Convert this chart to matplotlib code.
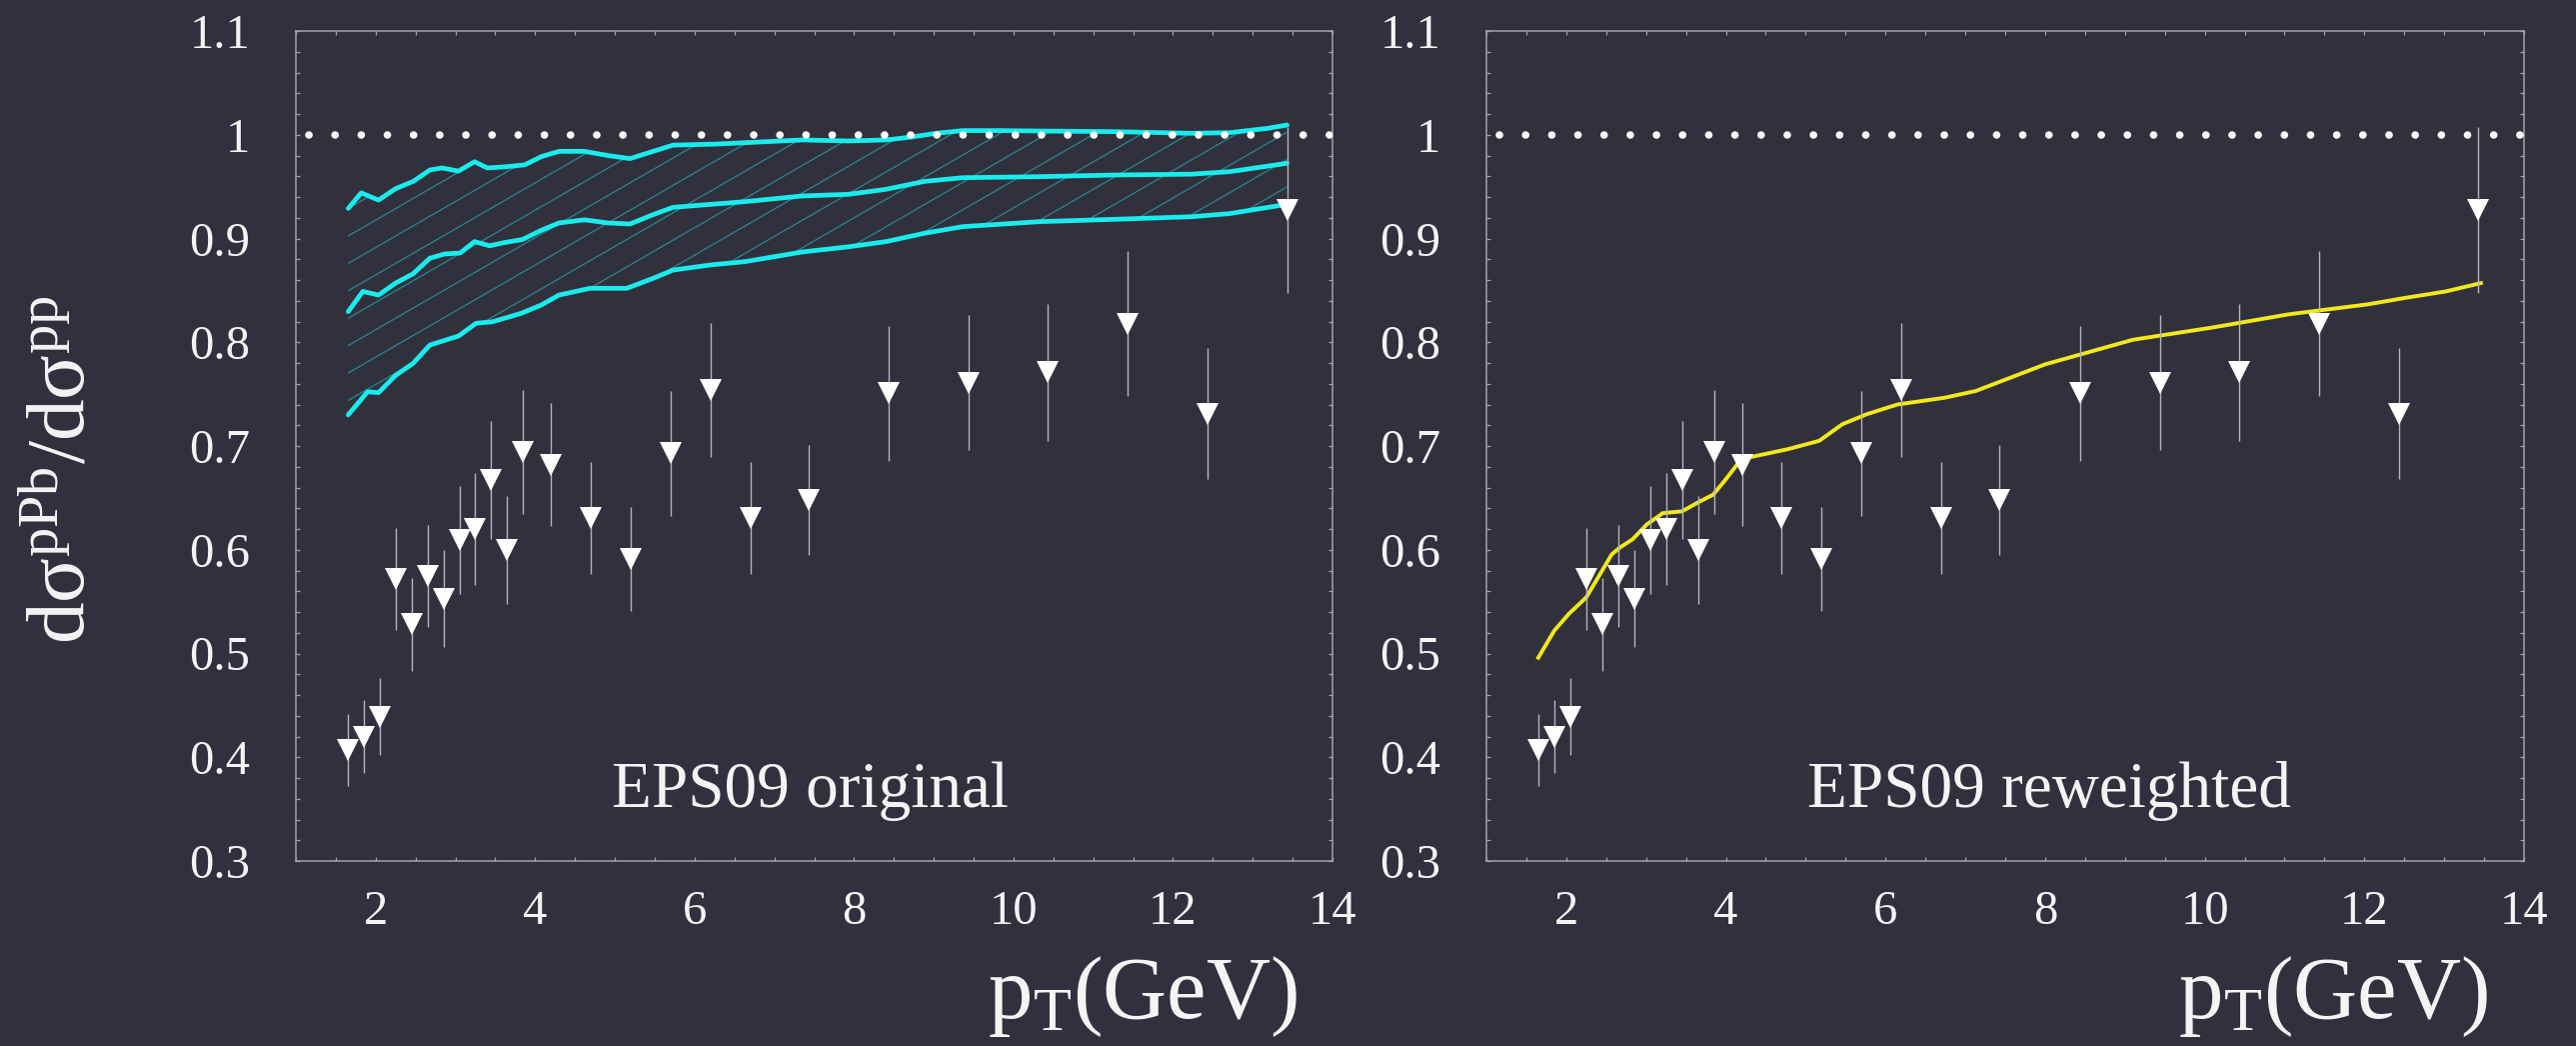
import numpy as np
import matplotlib
matplotlib.use('Agg')
import matplotlib.pyplot as plt
from matplotlib.collections import LineCollection
from matplotlib.ticker import MultipleLocator, FixedLocator, FuncFormatter

# ---------------- data ----------------
pt = [1.65, 1.85, 2.05, 2.25, 2.45, 2.65, 2.85, 3.05, 3.25, 3.45, 3.65, 3.85,
      4.2, 4.7, 5.2, 5.7, 6.2, 6.7, 7.43, 8.44, 9.44, 10.43, 11.43, 12.43, 13.43]
ratio = [0.407, 0.420, 0.439, 0.572, 0.528, 0.575, 0.553, 0.609, 0.620, 0.667, 0.600, 0.694,
         0.682, 0.631, 0.591, 0.693, 0.754, 0.631, 0.648, 0.751, 0.761, 0.771, 0.818, 0.731, 0.927]
ratio_err = [0.035, 0.035, 0.037, 0.049, 0.045, 0.049, 0.047, 0.052, 0.054, 0.057, 0.052, 0.060,
             0.059, 0.054, 0.050, 0.060, 0.065, 0.054, 0.053, 0.065, 0.065, 0.066, 0.070, 0.063, 0.080]

upper_x = [1.656, 1.82, 2.036, 2.25, 2.47, 2.68, 2.83, 3.04, 3.24, 3.40, 3.61, 3.87, 4.08, 4.30,
           4.62, 4.91, 5.19, 5.48, 5.73, 6.27, 7.35, 7.93, 8.40, 8.69, 9.03, 9.36, 9.84, 10.32,
           11.27, 12.23, 12.71, 13.19, 13.43]
upper_y = [0.929, 0.944, 0.937, 0.948, 0.955, 0.966, 0.968, 0.965, 0.974, 0.968, 0.969, 0.971,
           0.979, 0.984, 0.984, 0.980, 0.977, 0.984, 0.990, 0.991, 0.995, 0.994, 0.995, 0.9975,
           1.0014, 1.004, 1.004, 1.0036, 1.003, 1.0014, 1.002, 1.0062, 1.0094]

central_x = [1.656, 1.84, 2.036, 2.25, 2.47, 2.68, 2.86, 3.06, 3.24, 3.43, 3.61, 3.84, 4.08, 4.30,
             4.62, 4.91, 5.19, 5.48, 5.73, 6.05, 6.63, 7.35, 7.93, 8.40, 8.88, 9.36, 10.32, 11.27,
             12.23, 12.71, 13.43]
central_y = [0.8295, 0.849, 0.8455, 0.857, 0.866, 0.881, 0.885, 0.886, 0.897, 0.893, 0.896, 0.899,
             0.908, 0.915, 0.918, 0.915, 0.914, 0.923, 0.930, 0.932, 0.9355, 0.941, 0.9426, 0.9474,
             0.955, 0.9586, 0.9596, 0.9612, 0.962, 0.9644, 0.9725]

lower_x = [1.656, 1.90, 2.036, 2.25, 2.47, 2.68, 3.04, 3.26, 3.47, 3.83, 4.08, 4.30, 4.69, 5.15,
           5.48, 5.73, 6.20, 6.63, 7.35, 7.93, 8.40, 8.88, 9.36, 10.32, 11.27, 12.23, 12.71, 13.43]
lower_y = [0.730, 0.7523, 0.7514, 0.768, 0.7797, 0.7973, 0.806, 0.8183, 0.8198, 0.828, 0.836,
           0.8455, 0.852, 0.852, 0.8616, 0.8696, 0.8745, 0.8777, 0.887, 0.892, 0.897, 0.905,
           0.9114, 0.9162, 0.9185, 0.921, 0.924, 0.933]

rew_x = [1.65, 1.85, 2.03, 2.25, 2.42, 2.57, 2.67, 2.83, 3.01, 3.21, 3.45, 3.65, 3.84, 3.99, 4.14,
         4.29, 4.78, 5.17, 5.46, 5.76, 6.15, 6.74, 7.13, 8.00, 9.10, 10.08, 11.06, 12.04, 12.53,
         13.02, 13.46]
rew_y = [0.496, 0.522, 0.538, 0.554, 0.576, 0.5955, 0.602, 0.610, 0.6244, 0.6353, 0.637, 0.6456,
         0.653, 0.667, 0.682, 0.689, 0.697, 0.705, 0.721, 0.7305, 0.740, 0.7465, 0.753, 0.7787,
         0.8024, 0.814, 0.827, 0.8365, 0.843, 0.849, 0.857]

reference_level = 1.0
x_ticks = [2, 4, 6, 8, 10, 12, 14]
y_ticks = [0.3, 0.4, 0.5, 0.6, 0.7, 0.8, 0.9, 1.0, 1.1]
panel_titles = ["EPS09 original", "EPS09 reweighted"]

# ---------------- style ----------------
BG = '#31313e'
SPINE = '#a2a2aa'
TXT = '#f4f4f4'
CYAN = '#18ecec'
HATCH = '#2596a0'
YELLOW = '#f2e81a'
ERRC = '#b4b4bc'

plt.rcParams['font.family'] = ['Liberation Serif', 'DejaVu Serif']
plt.rcParams['mathtext.fontset'] = 'custom'
plt.rcParams['mathtext.rm'] = 'Liberation Serif'
plt.rcParams['mathtext.it'] = 'Liberation Serif:italic'
plt.rcParams['mathtext.bf'] = 'Liberation Serif:bold'

W, H = 2577, 1046
fig = plt.figure(figsize=(W / 100, H / 100), dpi=100, facecolor=BG)

ax_w = (1333 - 296) / W
ax_h = 830 / H
ax_y0 = (H - 861) / H
ax1 = fig.add_axes([296 / W, ax_y0, ax_w, ax_h])
ax2 = fig.add_axes([1487 / W, ax_y0, (2525 - 1487) / W, ax_h])

for ax in (ax1, ax2):
    ax.set_facecolor(BG)
    ax.set_xlim(1, 14)
    ax.set_ylim(0.3, 1.1)
    for s in ax.spines.values():
        s.set_color(SPINE)
        s.set_linewidth(1.1)
    ax.xaxis.set_major_locator(FixedLocator(x_ticks))
    ax.xaxis.set_minor_locator(MultipleLocator(0.5))
    ax.yaxis.set_major_locator(FixedLocator(y_ticks))
    ax.yaxis.set_minor_locator(MultipleLocator(0.02))
    ax.yaxis.set_major_formatter(FuncFormatter(lambda v, p: f'{v:g}'))
    ax.tick_params(which='both', direction='in', top=True, right=True,
                   length=3.2, width=0.9, color=SPINE)
    ax.tick_params(axis='y', which='major', pad=33, labelsize=35, labelcolor=TXT)
    ax.tick_params(axis='x', which='major', pad=21, labelsize=35, labelcolor=TXT)

    # dotted reference line (round dots)
    ax.axhline(reference_level, color='white', lw=5.4,
               linestyle=(1.76, (0.02, 3.47)), dash_capstyle='round', zorder=4)

    # data points
    ax.errorbar(pt, ratio, yerr=ratio_err, fmt='none', ecolor=ERRC, elinewidth=1.0,
                capsize=0, zorder=5)
    ax.plot(pt, ratio, linestyle='none', marker='v', markersize=16,
            markerfacecolor='white', markeredgewidth=0, zorder=6)

    ax.text(0.966, -0.189, r'$\mathrm{p_T(GeV)}$', transform=ax.transAxes,
            ha='right', va='baseline', fontsize=64, color=TXT)

# ---- left panel: band with hatch ----
band = ax1.fill(np.concatenate([upper_x, lower_x[::-1]]),
                np.concatenate([upper_y, lower_y[::-1]]),
                facecolor='none', edgecolor='none')[0]

bbox = ax1.get_position()
pw, ph = bbox.width * W, bbox.height * H
slope = np.tan(np.radians(30)) * pw / ph
step = 27.4 / ph
offs = np.arange(-1.0, 1.2, step)
segs = [[(0, c), (1, c + slope)] for c in offs]
lc = LineCollection(segs, colors=HATCH, linewidths=0.9, alpha=0.85,
                    transform=ax1.transAxes, zorder=2)
lc.set_clip_path(band.get_path(), ax1.transData)
ax1.add_collection(lc)

for xs, ys in ((upper_x, upper_y), (central_x, central_y), (lower_x, lower_y)):
    ax1.plot(xs, ys, color=CYAN, lw=3.4, solid_capstyle='round',
             solid_joinstyle='round', zorder=3)

# ---- right panel: reweighted curve ----
ax2.plot(rew_x, rew_y, color=YELLOW, lw=2.8, solid_joinstyle='round', zorder=3)

ax1.text(7.45, 0.352, panel_titles[0], ha='center', va='baseline', fontsize=47, color=TXT)
ax2.text(8.05, 0.352, panel_titles[1], ha='center', va='baseline', fontsize=47, color=TXT)

fig.text(65 / W, 1 - 470 / H, r'$\mathrm{d\sigma^{pPb}/d\sigma^{pp}}$', rotation=90,
         ha='center', va='center', fontsize=60, color=TXT)

fig.savefig('out.png', dpi=100, facecolor=BG)
